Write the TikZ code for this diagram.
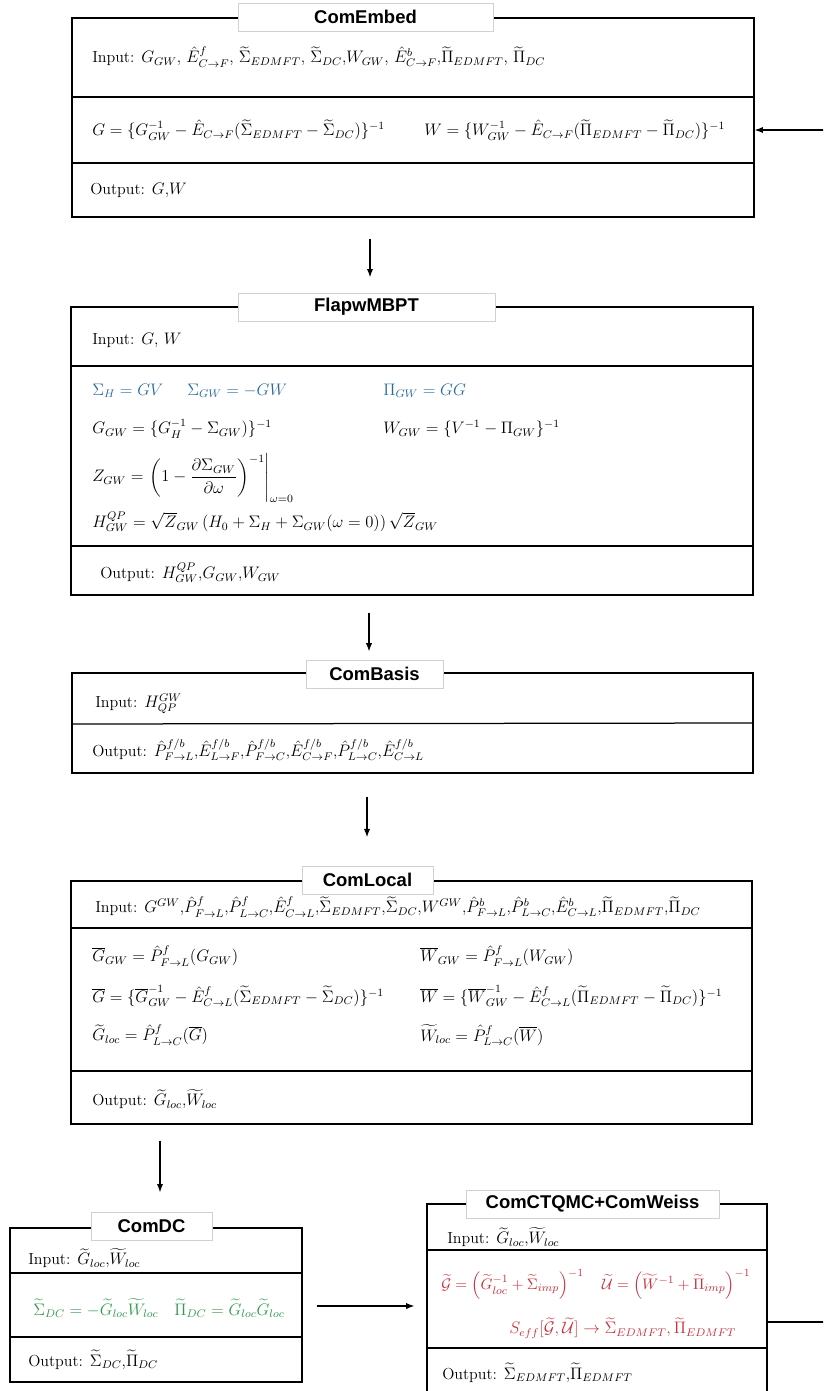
\documentclass[tikz,border=0pt]{standalone}
\usepackage{amsmath,amssymb}
\usepackage{fontspec}
\newfontfamily\titlefont{Liberation Sans}
\usetikzlibrary{fit,arrows.meta}
\definecolor{eqblue}{HTML}{2B6A9E}
\definecolor{eqgreen}{HTML}{2E9A4E}
\definecolor{eqred}{HTML}{C8323C}
\tikzset{
  box/.style={draw, line width=0.9pt, inner sep=0pt},
  titlebox/.style={draw=black!18, fill=white, line width=0.5pt, inner sep=0pt,
    minimum height=20.16pt, anchor=center,
    font=\titlefont\bfseries\fontsize{13.3}{15}\selectfont},
  txt/.style={anchor=west, inner sep=0pt, font=\fontsize{11.5}{13.5}\selectfont},
  divider/.style={line width=0.9pt},
  arr/.style={-{Latex[length=6pt,width=4.5pt]}, line width=0.9pt}
}
\begin{document}
\begin{tikzpicture}[x=0.72pt,y=-0.72pt]
\useasboundingbox (0,0) rectangle (823,1391);
\clip (0,0) rectangle (823,1391);

% ---------- ComEmbed ----------
\node[box, fit={(72,18) (754,217)}] (embed) {};
\draw[divider] (embed.west |- 0,97) -- (embed.east |- 0,97);
\draw[divider] (embed.west |- 0,163) -- (embed.east |- 0,163);
\node[titlebox, minimum width=255*0.72pt] (embedT) at (365.5,17) {ComEmbed};
\node[txt] (embedIn) at (92,57) {Input: $G_{GW}$, $\hat{E}^{f}_{C\to F}$, $\widetilde{\Sigma}_{EDMFT}$, $\widetilde{\Sigma}_{DC}$,$W_{GW}$, $\hat{E}^{b}_{C\to F}$,$\widetilde{\Pi}_{EDMFT}$, $\widetilde{\Pi}_{DC}$};
\node[txt] (embedG) at (92,130) {$G=\{G_{GW}^{-1}-\hat{E}_{C\to F}(\widetilde{\Sigma}_{EDMFT}-\widetilde{\Sigma}_{DC})\}^{-1}$};
\node[txt] (embedW) at (424,130) {$W=\{W_{GW}^{-1}-\hat{E}_{C\to F}(\widetilde{\Pi}_{EDMFT}-\widetilde{\Pi}_{DC})\}^{-1}$};
\node[txt] (embedOut) at (90,190) {Output: $G$,$W$};

% ---------- FlapwMBPT ----------
\node[box, fit={(71,307) (753,595)}] (flapw) {};
\draw[divider] (flapw.west |- 0,366) -- (flapw.east |- 0,366);
\draw[divider] (flapw.west |- 0,546) -- (flapw.east |- 0,546);
\node[titlebox, minimum width=257*0.72pt] (flapwT) at (366.5,307) {FlapwMBPT};
\node[txt] (flapwIn) at (92,340) {Input: $G$, $W$};
\node[txt, text=eqblue] (flapwA) at (92,391) {$\Sigma_H=GV$};
\node[txt, text=eqblue] (flapwB) at (187,391) {$\Sigma_{GW}=-GW$};
\node[txt, text=eqblue] (flapwC) at (383,391) {$\Pi_{GW}=GG$};
\node[txt] (flapwD) at (92,429) {$G_{GW}=\{G_H^{-1}-\Sigma_{GW})\}^{-1}$};
\node[txt] (flapwE) at (383,429) {$W_{GW}=\{V^{-1}-\Pi_{GW}\}^{-1}$};
\node[txt] (flapwF) at (92,478) {$Z_{GW}=\left.\left(1-\dfrac{\partial\Sigma_{GW}}{\partial\omega}\right)^{-1}\right|_{\omega=0}$};
\node[txt] (flapwG) at (92,522) {$H^{QP}_{GW}=\sqrt{Z}_{GW}\,(H_0+\Sigma_H+\Sigma_{GW}(\omega=0))\,\sqrt{Z}_{GW}$};
\node[txt] (flapwOut) at (100,573) {Output: $H^{QP}_{GW}$,$G_{GW}$,$W_{GW}$};

% ---------- ComBasis ----------
\node[box, fit={(72,673) (753,773)}] (basis) {};
\draw[divider] (basis.west |- 0,724) -- (basis.east |- 0,723);
\node[titlebox, minimum width=137*0.72pt] (basisT) at (374.5,674) {ComBasis};
\node[txt] (basisIn) at (95,704) {Input: $H^{GW}_{QP}$};
\node[txt] (basisOut) at (92,750) {Output: $\hat{P}^{f/b}_{F\to L}$,$\hat{E}^{f/b}_{L\to F}$,$\hat{P}^{f/b}_{F\to C}$,$\hat{E}^{f/b}_{C\to F}$,$\hat{P}^{f/b}_{L\to C}$,$\hat{E}^{f/b}_{C\to L}$};

% ---------- ComLocal ----------
\node[box, fit={(71,881) (752,1124)}] (local) {};
\draw[divider] (local.west |- 0,928) -- (local.east |- 0,928);
\draw[divider] (local.west |- 0,1071) -- (local.east |- 0,1071);
\node[titlebox, minimum width=131*0.72pt] (localT) at (367.5,880) {ComLocal};
\node[txt] (localIn) at (95,907) {Input: $G^{GW}$,$\hat P^f_{F\to L}$,$\hat P^f_{L\to C}$,$\hat E^f_{C\to L}$,$\widetilde\Sigma_{EDMFT}$,$\widetilde\Sigma_{DC}$,$W^{GW}$,$\hat P^b_{F\to L}$,$\hat P^b_{L\to C}$,$\hat E^b_{C\to L}$,$\widetilde\Pi_{EDMFT}$,$\widetilde\Pi_{DC}$};
\node[txt] (localA) at (92,956) {$\overline{G}_{GW}=\hat P^f_{F\to L}(G_{GW})$};
\node[txt] (localB) at (420,956) {$\overline{W}_{GW}=\hat P^f_{F\to L}(W_{GW})$};
\node[txt] (localC) at (92,996) {$\overline{G}=\{\overline{G}^{-1}_{GW}-\hat E^f_{C\to L}(\widetilde\Sigma_{EDMFT}-\widetilde\Sigma_{DC})\}^{-1}$};
\node[txt] (localD) at (420,996) {$\overline{W}=\{\overline{W}^{-1}_{GW}-\hat E^f_{C\to L}(\widetilde\Pi_{EDMFT}-\widetilde\Pi_{DC})\}^{-1}$};
\node[txt] (localE) at (92,1035) {$\widetilde G_{loc}=\hat P^f_{L\to C}(\overline G)$};
\node[txt] (localF) at (420,1035) {$\widetilde W_{loc}=\hat P^f_{L\to C}(\overline W)$};
\node[txt] (localOut) at (92,1099) {Output: $\widetilde G_{loc}$,$\widetilde W_{loc}$};

% ---------- ComDC ----------
\node[box, fit={(10,1228) (302,1382)}] (dc) {};
\draw[divider] (dc.west |- 0,1273) -- (dc.east |- 0,1273);
\draw[divider] (dc.west |- 0,1337) -- (dc.east |- 0,1337);
\node[titlebox, minimum width=121*0.72pt] (dcT) at (151.5,1226) {ComDC};
\node[txt] (dcIn) at (28,1258) {Input: $\widetilde G_{loc}$,$\widetilde W_{loc}$};
\node[txt, text=eqgreen] (dcEq) at (33,1308) {$\widetilde\Sigma_{DC}=-\widetilde G_{loc}\widetilde W_{loc}\quad\widetilde\Pi_{DC}=\widetilde G_{loc}\widetilde G_{loc}$};
\node[txt] (dcOut) at (28,1360) {Output: $\widetilde\Sigma_{DC}$,$\widetilde\Pi_{DC}$};

% ---------- ComCTQMC+ComWeiss ----------
\node[box, fit={(427,1204) (767,1430)}] (ctq) {};
\draw[divider] (ctq.west |- 0,1250) -- (ctq.east |- 0,1250);
\draw[divider] (ctq.west |- 0,1348) -- (ctq.east |- 0,1348);
\node[titlebox, minimum width=253*0.72pt] (ctqT) at (592.5,1204) {ComCTQMC+ComWeiss};
\node[txt] (ctqIn) at (447,1237) {Input: $\widetilde G_{loc}$,$\widetilde W_{loc}$};
\node[txt, text=eqred, font=\fontsize{11}{13}\selectfont] (ctqA) at (441,1284) {$\widetilde{\mathcal G}=\left(\widetilde G^{-1}_{loc}+\widetilde\Sigma_{imp}\right)^{-1}\quad\widetilde{\mathcal U}=\left(\widetilde W^{-1}+\widetilde\Pi_{imp}\right)^{-1}$};
\node[txt, text=eqred] (ctqB) at (509,1328) {$S_{eff}[\widetilde{\mathcal G},\widetilde{\mathcal U}]\to\widetilde\Sigma_{EDMFT},\widetilde\Pi_{EDMFT}$};
\node[txt] (ctqOut) at (442,1373) {Output: $\widetilde\Sigma_{EDMFT}$,$\widetilde\Pi_{EDMFT}$};

% ---------- connectors ----------
\draw[arr, shorten <=15.1pt, shorten >=20.9pt] (embed.south -| 370,0) -- (flapw.north -| 370,0);
\draw[arr, shorten <=12.2pt, shorten >=15pt] (flapw.south -| 369,0) -- (basis.north -| 369,0);
\draw[arr, shorten <=16.6pt, shorten >=31pt] (basis.south -| 367,0) -- (local.north -| 367,0);
\draw[arr, shorten <=11.5pt, shorten >=25.2pt] (local.south -| 160,0) -- (dc.north -| 160,0);
\draw[arr, shorten <=10.1pt, shorten >=8.6pt] (dc.east |- 0,1306) -- (ctq.west |- 0,1306);
\draw[arr] (ctq.east |- 0,1322) -- (900,1322) -- (900,130) -- (embed.east |- 0,130);
\end{tikzpicture}
\end{document}
